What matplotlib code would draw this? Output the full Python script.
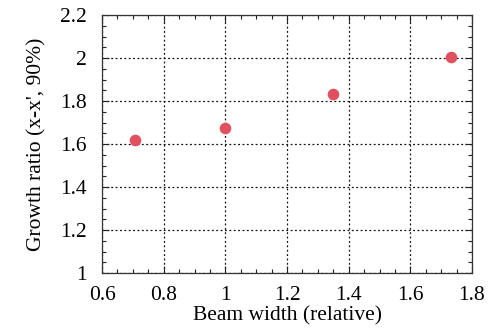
import matplotlib.pyplot as plt
from matplotlib.ticker import MultipleLocator

plt.rcParams['font.family'] = 'Liberation Serif'

beam_width = [0.707, 1.0, 1.35, 1.732]
growth_ratio = [1.619, 1.673, 1.833, 2.006]

fig = plt.figure(figsize=(4.9, 3.32), dpi=100)
ax = fig.add_axes([102 / 490, 1 - 273 / 332, 370 / 490, 258 / 332])

ax.scatter(beam_width, growth_ratio, s=70, color='#e0505e', zorder=3, linewidths=0)

ax.set_xlim(0.6, 1.8)
ax.set_ylim(1, 2.2)
ax.xaxis.set_minor_locator(MultipleLocator(0.05))
ax.yaxis.set_minor_locator(MultipleLocator(0.05))
ax.set_xticks([0.6, 0.8, 1, 1.2, 1.4, 1.6, 1.8])
ax.set_xticklabels(['0.6', '0.8', '1', '1.2', '1.4', '1.6', '1.8'])
ax.set_yticks([1, 1.2, 1.4, 1.6, 1.8, 2, 2.2])
ax.set_yticklabels(['1', '1.2', '1.4', '1.6', '1.8', '2', '2.2'])

ax.tick_params(which='both', direction='in', top=True, right=True, labelsize=15.5, color='#222')
ax.tick_params(which='major', length=5, width=0.8, pad=9)
ax.tick_params(which='minor', length=3, width=0.8)
ax.tick_params(axis='y', which='major', pad=11)
ax.grid(True, which='major', linestyle=(0, (1.5, 2)), color='#111', linewidth=0.9)
for sp in ax.spines.values():
    sp.set_color('#333')
    sp.set_linewidth(0.9)

ax.set_xlabel('Beam width (relative)', fontsize=15.5, labelpad=1)
ax.set_ylabel("Growth ratio (x-x', 90%)", fontsize=15.5, labelpad=10)

fig.savefig('out.png', dpi=100)
